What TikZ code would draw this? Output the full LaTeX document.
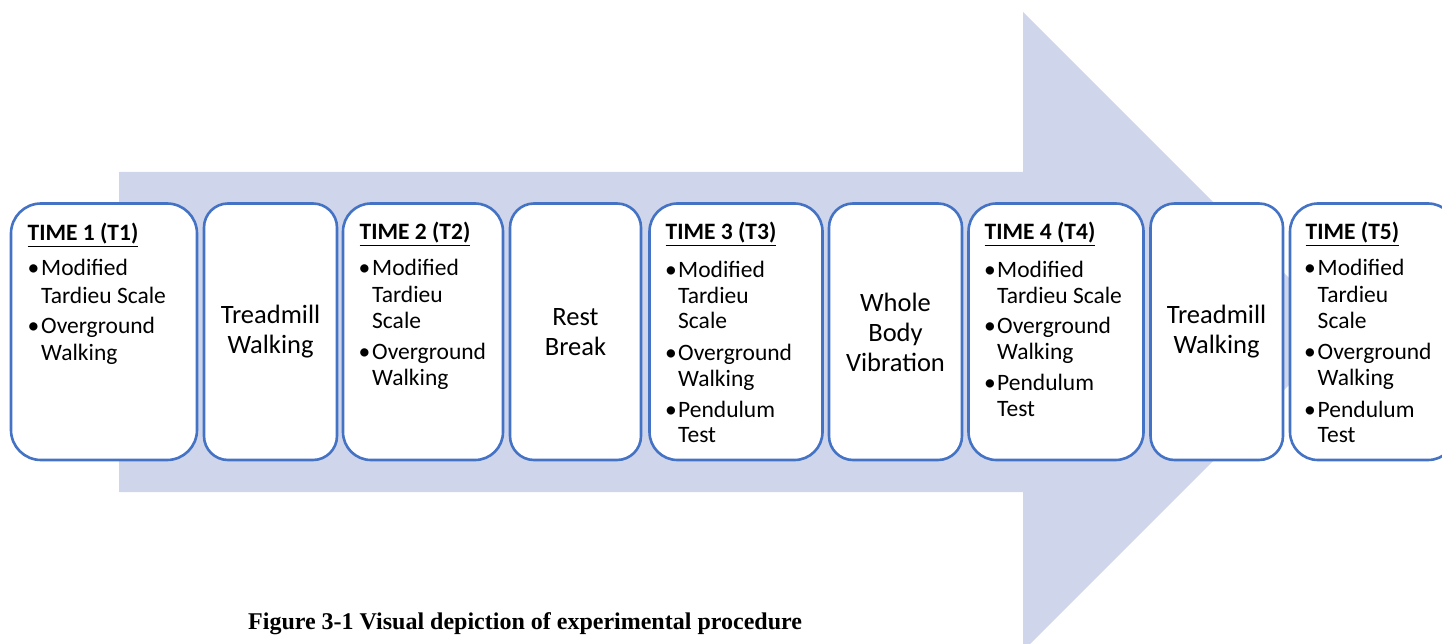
\documentclass[tikz,border=0pt]{standalone}
\usepackage{fontspec}
\setmainfont{Carlito}
\newfontfamily\capfont{Liberation Serif}
\definecolor{boxline}{HTML}{4472C4}
\definecolor{arrowfill}{HTML}{CFD5EA}
\tikzset{
  stagebox/.style={draw=boxline, line width=2.6pt, fill=white, rounded corners=#1},
  stagebox/.default=28pt,
  hdr/.style={anchor=base west, inner sep=0pt, font=\fontsize{23.5}{26.5}\selectfont\bfseries},
  lst/.style={anchor=base west, inner sep=0pt, font=\fontsize{23.5}{26.5}\selectfont},
  bul/.style={anchor=base west, inner sep=0pt, font=\fontsize{23.5}{26.5}\selectfont},
  mid/.style={align=center, inner sep=0pt, font=\fontsize{26.5}{30}\selectfont},
}
\newcommand\bitem[5]{% name, bullet x, text x, baseline y, text
  \node[bul] (#1b) at (#2,#4) {\char"2022};
  \node[lst] (#1) at (#3,#4) {#5};
}
\newcommand\contline[4]{\node[lst] (#1) at (#2,#3) {#4};}
\begin{document}
\begin{tikzpicture}[x=1pt,y=-1pt]
\useasboundingbox (0,0) rectangle (1442,644);
\clip (0,0) rectangle (1442,644);
% big arrow
\path[fill=arrowfill] (119,172) -- (1023,172) -- (1023,12) -- (1342.5,331.5)
  -- (1023,651) -- (1023,492) -- (119,492) -- cycle;
% boxes
\draw[stagebox=30pt] (11,203.5) rectangle (197,460);
\draw[stagebox=24pt] (204,203.5) rectangle (337,460);
\draw[stagebox=28pt] (343,203.5) rectangle (503,460);
\draw[stagebox=24pt] (510,203.5) rectangle (641,460);
\draw[stagebox=28pt] (649.5,203.5) rectangle (822.5,460);
\draw[stagebox=24pt] (829,203.5) rectangle (962,460);
\draw[stagebox=28pt] (968.5,203.5) rectangle (1143.5,460);
\draw[stagebox=24pt] (1150.5,203.5) rectangle (1283,460);
\draw[stagebox=28pt] (1290,203.5) rectangle (1456,460);
% T1
\node[hdr] (h1) at (27.5,241) {\underline{TIME 1 (T1)}};
\bitem{a1}{27.5}{41}{276}{Modified}
\contline{a1c}{41}{303}{Tardieu Scale}
\bitem{a2}{27.5}{41}{333}{Overground}
\contline{a2c}{41}{360}{Walking}
% Treadmill 1
\node[mid] (tw1) at (270.5,332) {Treadmill\\Walking};
% T2
\node[hdr] (h2) at (359.5,240) {\underline{TIME 2 (T2)}};
\bitem{b1}{358.5}{372}{276}{Modified}
\contline{b1c}{372}{302}{Tardieu}
\contline{b1d}{372}{328}{Scale}
\bitem{b2}{358.5}{372}{359}{Overground}
\contline{b2c}{372}{385}{Walking}
% Rest
\node[mid] (rb) at (575.5,332) {Rest\\Break};
% T3
\node[hdr] (h3) at (665.5,240) {\underline{TIME 3 (T3)}};
\bitem{c1}{665}{678}{277}{Modified}
\contline{c1c}{678}{303}{Tardieu}
\contline{c1d}{678}{328}{Scale}
\bitem{c2}{665}{678}{360}{Overground}
\contline{c2c}{678}{386}{Walking}
\bitem{c3}{665}{678}{417}{Pendulum}
\contline{c3c}{678}{442}{Test}
% WBV
\node[mid] (wbv) at (895.5,332) {Whole\\Body\\Vibration};
% T4
\node[hdr] (h4) at (984.5,240) {\underline{TIME 4 (T4)}};
\bitem{d1}{984}{997}{277}{Modified}
\contline{d1c}{997}{303}{Tardieu Scale}
\bitem{d2}{984}{997}{333}{Overground}
\contline{d2c}{997}{359}{Walking}
\bitem{d3}{984}{997}{390}{Pendulum}
\contline{d3c}{997}{416}{Test}
% Treadmill 2
\node[mid] (tw2) at (1216.5,332) {Treadmill\\Walking};
% T5
\node[hdr] (h5) at (1305.5,240) {\underline{TIME (T5)}};
\bitem{e1}{1304}{1317.5}{276}{Modified}
\contline{e1c}{1317.5}{302}{Tardieu}
\contline{e1d}{1317.5}{328}{Scale}
\bitem{e2}{1304}{1317.5}{359}{Overground}
\contline{e2c}{1317.5}{385}{Walking}
\bitem{e3}{1304}{1317.5}{417}{Pendulum}
\contline{e3c}{1317.5}{442}{Test}
% caption
\node[anchor=base west, inner sep=0pt, font=\capfont\fontsize{24}{28}\selectfont\bfseries] (cap) at (248,629) {Figure 3-1 Visual depiction of experimental procedure};
\end{tikzpicture}
\end{document}
